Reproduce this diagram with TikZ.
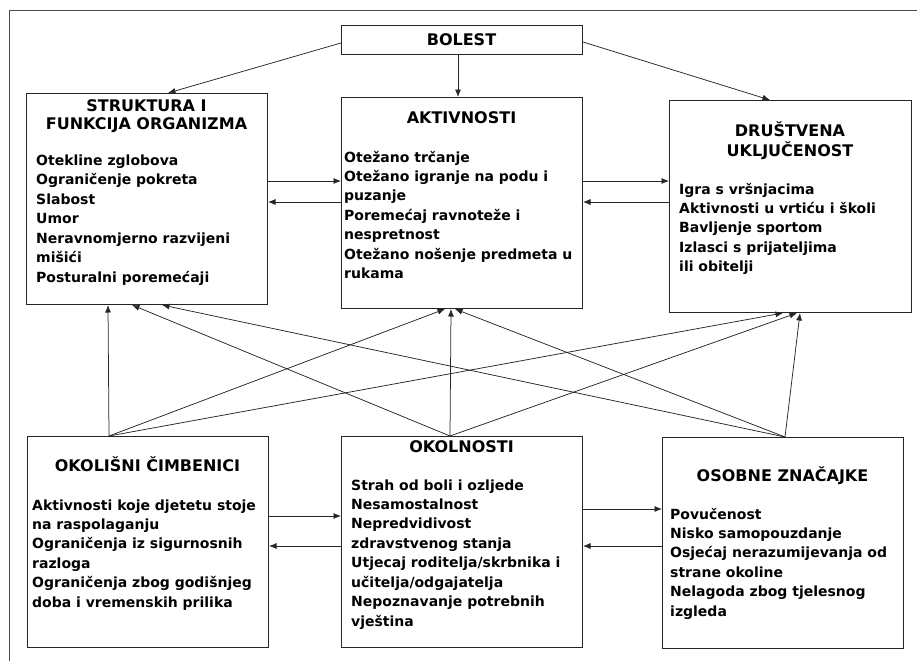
\documentclass[tikz,border=0pt]{standalone}
\usepackage{fontspec}
\setmainfont{DejaVu Sans}
\usetikzlibrary{arrows.meta,calc}
\newcommand{\bodyfont}{\fontsize{14}{19.45}\selectfont\bfseries}
\newcommand{\titlefont}{\fontsize{16}{18.8}\selectfont\bfseries}
\newcommand{\tl}[1]{\begin{tabular}[t]{@{}l@{}}#1\end{tabular}}
\newcommand{\tc}[1]{\begin{tabular}[t]{@{}c@{}}#1\end{tabular}}
\begin{document}
\begin{tikzpicture}[x=1pt,y=-1pt,
  box/.style={draw=black!85,line width=1pt,rectangle,anchor=north west,inner sep=0pt,minimum width=241pt,minimum height=211pt},
  txt/.style={inner sep=0pt,font=\bodyfont,anchor=base west},
  ttl/.style={inner sep=0pt,font=\titlefont,anchor=base},
  arr/.style={draw=black!85,line width=0.75pt,-{Latex[length=7.5pt,width=6pt]}}]
\useasboundingbox (0,0) rectangle (917,661);
\draw[line width=1.5pt,draw=black!70] (9.5,661) -- (9.5,10.5) -- (917,10.5);
% boxes
\node[box,minimum height=29pt] (bolest) at (341,25) {};
\node[ttl] (tbolest) at (461.5,45.5) {BOLEST};
\node[box] (struct) at (26,93) {};
\node[box] (aktiv) at (341,97) {};
\node[box,minimum width=242pt,minimum height=212pt] (drus) at (669,100) {};
\node[box] (okolis) at (27,436) {};
\node[box] (okoln) at (341,436) {};
\node[box] (osob) at (662,437) {};
% titles
\node[ttl] (tstruct) at (146.5,111) {\tc{STRUKTURA I\\FUNKCIJA ORGANIZMA}};
\node[ttl] (taktiv) at (461.5,123) {AKTIVNOSTI};
\node[ttl] (tdrus) at (790,136) {\tc{DRUŠTVENA\\UKLJUČENOST}};
\node[ttl] (tokolis) at (147.5,471) {OKOLIŠNI ČIMBENICI};
\node[ttl] (tokoln) at (461.5,452) {OKOLNOSTI};
\node[ttl] (tosob) at (782.5,481) {OSOBNE ZNAČAJKE};
% bodies
\node[txt] (bstruct) at (36,165.5) {\tl{Otekline zglobova\\Ograničenje pokreta\\Slabost\\Umor\\Neravnomjerno razvijeni\\mišići\\Posturalni poremećaji}};
\node[txt] (baktiv) at (344,162) {\tl{Otežano trčanje\\Otežano igranje na podu i\\puzanje\\Poremećaj ravnoteže i\\nespretnost\\Otežano nošenje predmeta u\\rukama}};
\node[txt] (bdrus) at (679,194) {\tl{Igra s vršnjacima\\Aktivnosti u vrtiću i školi\\Bavljenje sportom\\Izlasci s prijateljima\\ili obitelji}};
\node[txt] (bokolis) at (32,510) {\tl{Aktivnosti koje djetetu stoje\\na raspolaganju\\Ograničenja iz sigurnosnih\\razloga\\Ograničenja zbog godišnjeg\\doba i vremenskih prilika}};
\node[txt] (bokoln) at (351,490) {\tl{Strah od boli i ozljede\\Nesamostalnost\\Nepredvidivost\\zdravstvenog stanja\\Utjecaj roditelja/skrbnika i\\učitelja/odgajatelja\\Nepoznavanje potrebnih\\vještina}};
\node[txt] (bosob) at (670,519) {\tl{Povučenost\\Nisko samopouzdanje\\Osjećaj nerazumijevanja od\\strane okoline\\Nelagoda zbog tjelesnog\\izgleda}};
% arrows from BOLEST
\draw[arr] ($(bolest.north west)+(0,18)$) -- ($(struct.north west)+(142,0)$);
\draw[arr] ($(bolest.south west)+(117,0)$) -- ($(aktiv.north west)+(117,0)$);
\draw[arr] ($(bolest.north east)+(0,17)$) -- ($(drus.north west)+(101,0)$);
% horizontal pairs
\draw[arr] ($(struct.north east)+(0,88)$) coordinate (h1) -- (h1 -| aktiv.west);
\draw[arr] ($(aktiv.north west)+(0,105)$) coordinate (h2) -- (h2 -| struct.east);
\draw[arr] ($(aktiv.north east)+(0,84)$) coordinate (h3) -- (h3 -| drus.west);
\draw[arr] ($(drus.north west)+(0,102)$) coordinate (h4) -- (h4 -| aktiv.east);
\draw[arr] ($(okolis.north east)+(0,80)$) coordinate (h5) -- (h5 -| okoln.west);
\draw[arr] ($(okoln.north west)+(0,110)$) coordinate (h6) -- (h6 -| okolis.east);
\draw[arr] ($(okoln.north east)+(0,73)$) coordinate (h7) -- (h7 -| osob.west);
\draw[arr] ($(osob.north west)+(0,109)$) coordinate (h8) -- (h8 -| okoln.east);
% bottom-up
\coordinate (sA) at ($(okolis.north west)+(82,0)$);
\coordinate (sB) at ($(okoln.north west)+(109,0)$);
\coordinate (sC) at ($(osob.north west)+(123,0)$);
\draw[arr] (sA) -- ($(struct.south west)+(82,0)$);
\draw[arr] (sA) -- ($(aktiv.south west)+(104,0)$);
\draw[arr] (sA) -- ($(drus.south west)+(114,0)$);
\draw[arr] (sB) -- ($(struct.south west)+(106,0)$);
\draw[arr] (sB) -- ($(aktiv.south west)+(110,0)$);
\draw[arr] (sB) -- ($(drus.south west)+(128,0)$);
\draw[arr] (sC) -- ($(struct.south west)+(136,0)$);
\draw[arr] (sC) -- ($(aktiv.south west)+(114,0)$);
\draw[arr] (sC) -- ($(drus.south west)+(131,0)$);
\end{tikzpicture}
\end{document}
